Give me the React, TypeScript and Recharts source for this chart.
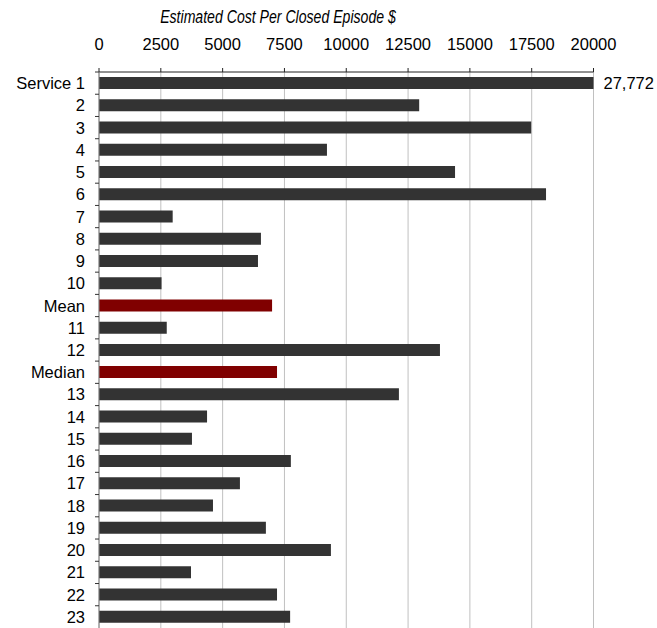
import { BarChart, Bar, XAxis, YAxis, CartesianGrid, Cell, LabelList } from 'recharts'

const categories = [
  'Service 1', '2', '3', '4', '5', '6', '7', '8', '9', '10', 'Mean', '11', '12', 'Median',
  '13', '14', '15', '16', '17', '18', '19', '20', '21', '22', '23',
]
const costs = [
  27772, 12950, 17480, 9220, 14400, 18080, 2980, 6550, 6430, 2530, 7000, 2740, 13790, 7200,
  12130, 4370, 3760, 7760, 5700, 4610, 6750, 9380, 3720, 7200, 7730,
]
const summaryRows = ['Mean', 'Median']
const xTicks = [0, 2500, 5000, 7500, 10000, 12500, 15000, 17500, 20000]
const axisMax = 20000

const data = categories.map((name, i) => ({ name, cost: costs[i] }))

const font = '"Liberation Sans", Arial, sans-serif'
const bandSize = 556 / categories.length

function XTick({ x, payload }: any) {
  return (
    <text x={x} y={50} textAnchor="middle" fontSize={16.5} fontFamily={font} fill="#000">
      {payload.value}
    </text>
  )
}

function YTick({ x, y, payload }: any) {
  const top = y - bandSize / 2
  return (
    <g>
      <line x1={95} x2={99} y1={top} y2={top} stroke="#333" strokeWidth={1} />
      <text x={85} y={y} dy={6} textAnchor="end" fontSize={16.5} fontFamily={font} fill="#000">
        {payload.value}
      </text>
    </g>
  )
}

// only the clipped first bar gets its real value printed beside it
function OverflowLabel({ x, y, width, height, index }: any) {
  if (costs[index] <= axisMax) return null
  return (
    <text
      x={x + width + 10}
      y={y + height / 2}
      dy={6}
      fontSize={16.5}
      fontFamily={font}
      fill="#000"
    >
      {costs[index].toLocaleString('en-US')}
    </text>
  )
}

export default function App() {
  return (
    <div style={{ position: 'absolute', left: 0, top: 0, width: 657, height: 628, background: '#fff' }}>
      <BarChart
        width={657}
        height={628}
        data={data}
        layout="vertical"
        margin={{ top: 0, right: 63.5, bottom: 0, left: 0 }}
        barCategoryGap={0}
      >
        {/* title is a condensed italic in the original, so squeeze it horizontally */}
        <text
          transform="translate(278 23) scale(0.806 1)"
          x={0}
          y={0}
          textAnchor="middle"
          fontSize={17.5}
          fontStyle="italic"
          fontFamily={font}
          fill="#000"
        >
          Estimated Cost Per Closed Episode $
        </text>
        <CartesianGrid horizontal={false} stroke="#c0c0c0" strokeWidth={1} />
        <XAxis
          type="number"
          orientation="top"
          domain={[0, axisMax]}
          ticks={xTicks}
          height={72}
          axisLine={{ stroke: '#222', strokeWidth: 1 }}
          tickLine={{ stroke: '#222' }}
          tickSize={4}
          tick={<XTick />}
        />
        <YAxis
          type="category"
          dataKey="name"
          width={99}
          axisLine={{ stroke: '#808080', strokeWidth: 1 }}
          tickLine={false}
          tick={<YTick />}
          interval={0}
        />
        <Bar
          dataKey={(d: any) => Math.min(d.cost, axisMax)}
          barSize={12}
          isAnimationActive={false}
        >
          {data.map((d) => (
            <Cell key={d.name} fill={summaryRows.includes(d.name) ? '#800000' : '#333333'} />
          ))}
          <LabelList content={<OverflowLabel />} />
        </Bar>
      </BarChart>
    </div>
  )
}
